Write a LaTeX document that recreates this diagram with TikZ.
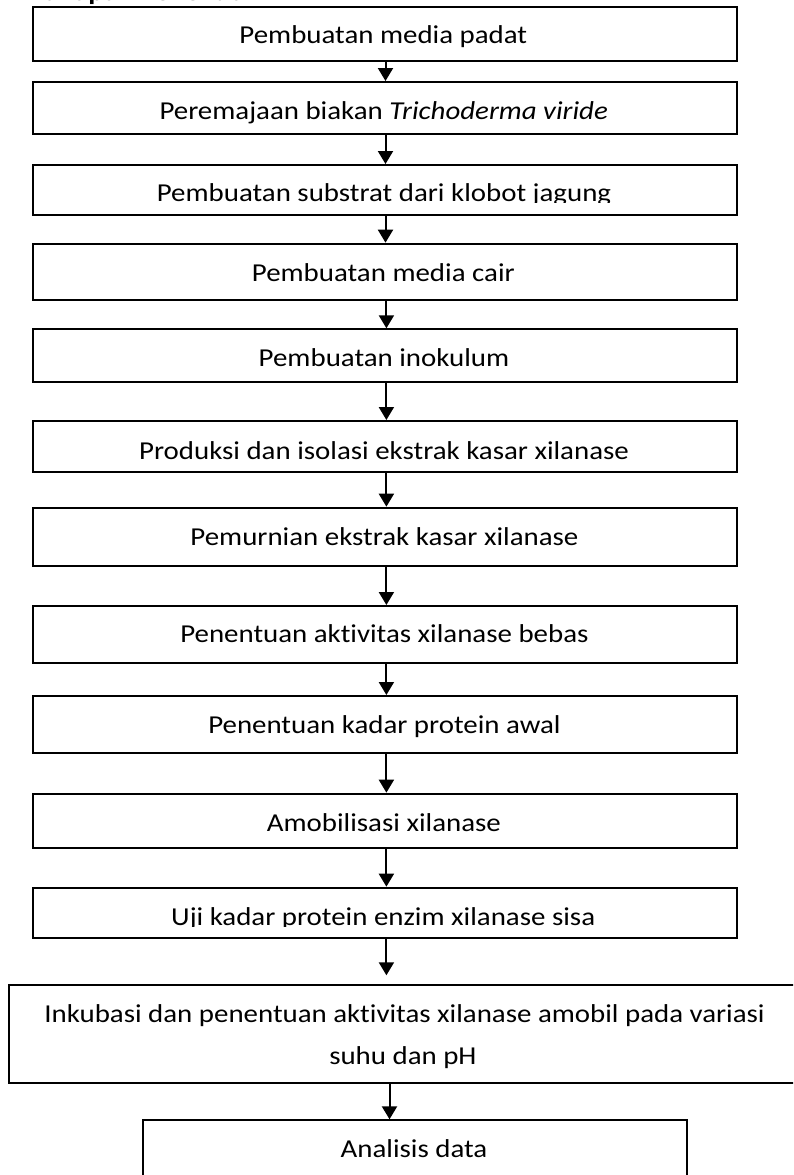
\documentclass[tikz,border=0pt]{standalone}
\usepackage{fontspec}
\setmainfont{Carlito}[FakeStretch=1.12,Ligatures={NoCommon,NoContextual,NoRequired},Contextuals=NoAlternate]
\usetikzlibrary{arrows.meta}
\begin{document}
\begin{tikzpicture}[x=1pt,y=-1pt,
  box/.style={draw,line width=2pt,rectangle,inner sep=0pt,anchor=north west},
  lbl/.style={anchor=base,inner sep=0pt,font=\fontsize{25.8}{41.6}\selectfont},
  arr/.style={line width=2pt,-{Triangle[width=15pt,length=13pt]}}]
\useasboundingbox (0,0) rectangle (793,1175);
\clip (0,0) rectangle (793,1175);
\fill[white] (0,0) rectangle (793,1175);
% title (cut off at the top edge)
\node[lbl,anchor=base west,font=\fontsize{25.8}{30}\selectfont\bfseries] (title) at (32,0) {Tahapan Penelitian};
% boxes
\node[box,minimum width=704pt,minimum height=54pt]   (b1)  at (32,6) {};
\node[box,minimum width=704pt,minimum height=52pt]   (b2)  at (32,81) {};
\node[box,minimum width=704pt,minimum height=50pt]   (b3)  at (32,164) {};
\node[box,minimum width=704pt,minimum height=56.3pt] (b4)  at (32,242.7) {};
\node[box,minimum width=704pt,minimum height=52.7pt] (b5)  at (32,328.3) {};
\node[box,minimum width=704pt,minimum height=50.7pt] (b6)  at (32,420) {};
\node[box,minimum width=704pt,minimum height=58.3pt] (b7)  at (32,506.7) {};
\node[box,minimum width=704pt,minimum height=56.7pt] (b8)  at (32,605) {};
\node[box,minimum width=704pt,minimum height=56.7pt] (b9)  at (32,695) {};
\node[box,minimum width=704pt,minimum height=54pt]   (b10) at (32,792.7) {};
\node[box,minimum width=704pt,minimum height=50pt]   (b11) at (32,886.7) {};
\node[box,minimum width=795pt,minimum height=97.4pt] (b12) at (7.6,984.3) {};
\node[box,minimum width=544.8pt,minimum height=80pt] (b13) at (141.6,1119.3) {};
% labels
\node[lbl] (t1)  at (383.3,43.3)  {Pembuatan media padat};
\node[lbl] (t2)  at (383.7,119.3) {Peremajaan biakan \textit{Trichoderma viride}};
\begin{scope}
\clip (0,150) rectangle (793,202.5);
\node[lbl] (t3)  at (384,201)     {Pembuatan substrat dari klobot jagung};
\end{scope}
\node[lbl] (t4)  at (383.3,281.7) {Pembuatan media cair};
\node[lbl] (t5)  at (384,366.7)   {Pembuatan inokulum};
\node[lbl] (t6)  at (384,459.3)   {Produksi dan isolasi ekstrak kasar xilanase};
\node[lbl] (t7)  at (384.4,545.7) {Pemurnian ekstrak kasar xilanase};
\node[lbl] (t8)  at (384.4,642.3) {Penentuan aktivitas xilanase bebas};
\node[lbl] (t9)  at (384.4,733.3) {Penentuan kadar protein awal};
\node[lbl] (t10) at (383.9,831)   {Amobilisasi xilanase};
\begin{scope}
\clip (0,880) rectangle (793,926.7);
\node[lbl] (t11) at (383.2,925)   {Uji kadar protein enzim xilanase sisa};
\end{scope}
\node[lbl] (t12a) at (404.6,1022.7) {Inkubasi dan penentuan aktivitas xilanase amobil pada variasi};
\node[lbl] (t12b) at (402.9,1064.3) {suhu dan pH};
\node[lbl] (t13) at (414,1157.3)  {Analisis data};
% connectors
\coordinate (xa) at (385.5,0);
\coordinate (xb) at (386.4,0);
\coordinate (xc) at (389.5,0);
\draw[arr] (b1.south -| xa) -- (b2.north -| xa);
\draw[arr] (b2.south -| xa) -- (b3.north -| xa);
\draw[arr] (b3.south -| xa) -- (b4.north -| xa);
\draw[arr] (b4.south -| xb) -- (b5.north -| xb);
\draw[arr] (b5.south -| xb) -- (b6.north -| xb);
\draw[arr] (b6.south -| xb) -- (b7.north -| xb);
\draw[arr] (b7.south -| xb) -- (b8.north -| xb);
\draw[arr] (b8.south -| xb) -- (b9.north -| xb);
\draw[arr] (b9.south -| xb) -- (b10.north -| xb);
\draw[arr] (b10.south -| xb) -- (b11.north -| xb);
\draw[arr,shorten >=9pt] (b11.south -| xb) -- (b12.north -| xb);
\draw[arr] (b12.south -| xc) -- (b13.north -| xc);
\end{tikzpicture}
\end{document}
